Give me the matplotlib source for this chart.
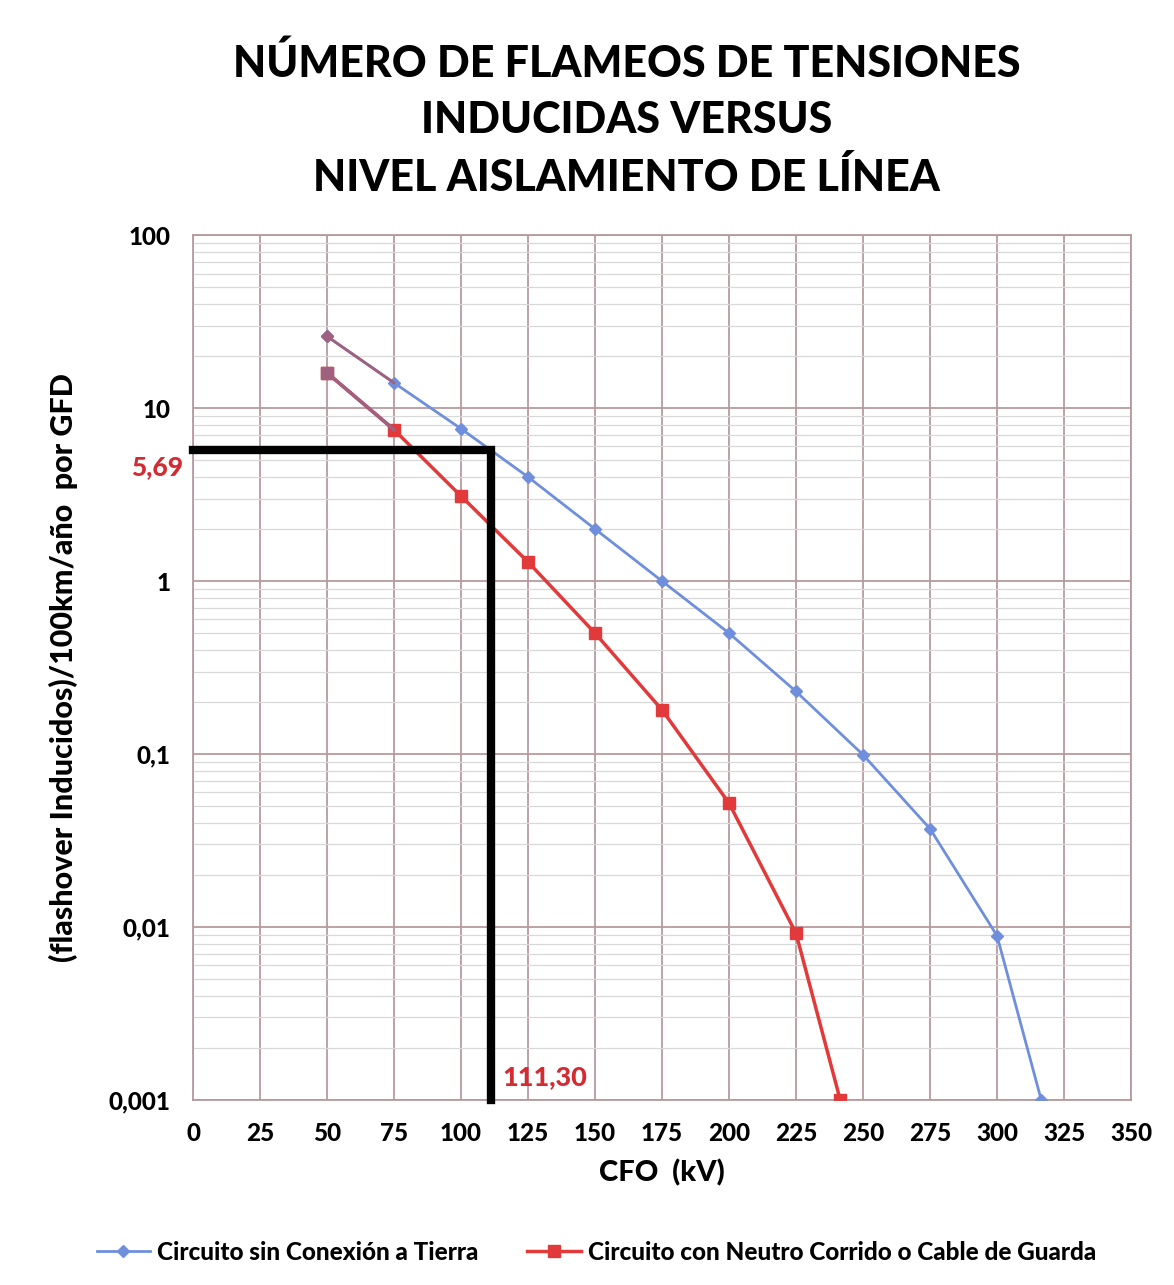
import matplotlib.pyplot as plt
from matplotlib.ticker import FixedLocator, LogLocator, NullFormatter

plt.rcParams['font.family'] = ['Lato', 'DejaVu Sans']

# data
cfo_blue = [50, 75, 100, 125, 150, 175, 200, 225, 250, 275, 300, 316.5]
flash_blue = [26, 14, 7.6, 4.0, 2.0, 1.0, 0.5, 0.23, 0.099, 0.037, 0.0089, 0.001]
cfo_red = [50, 75, 100, 125, 150, 175, 200, 225, 241.5]
flash_red = [16, 7.5, 3.1, 1.29, 0.5, 0.18, 0.052, 0.0092, 0.001]
cfo_sel = 111.30
flash_sel = 5.69
x_ticks = list(range(0, 351, 25))
y_ticks = [0.001, 0.01, 0.1, 1, 10, 100]
y_labels = ['0,001', '0,01', '0,1', '1', '10', '100']

blue = '#6f8fdc'
red = '#e23a3a'
mauve = '#a0607e'
gridc = '#b89a9e'
W = 'black'

fig = plt.figure(figsize=(11.74, 12.85), dpi=100)
ax = fig.add_axes([0.1644, 0.144, 0.799, 0.673])

ax.set_yscale('log')
ax.set_xlim(0, 350)
ax.set_ylim(0.001, 100)

ax.xaxis.set_major_locator(FixedLocator(x_ticks))
ax.set_xticklabels([str(v) for v in x_ticks])
ax.yaxis.set_major_locator(FixedLocator(y_ticks))
ax.set_yticklabels(y_labels)
ax.yaxis.set_minor_locator(LogLocator(base=10, subs=range(2, 10)))
ax.yaxis.set_minor_formatter(NullFormatter())
ax.tick_params(axis='both', which='both', length=0, labelsize=17.5)
ax.tick_params(axis='x', pad=16)
ax.tick_params(axis='y', pad=16)
for lab in ax.get_xticklabels() + ax.get_yticklabels():
    lab.set_fontweight(W)

ax.grid(True, which='major', color=gridc, lw=1.3)
ax.grid(True, which='minor', axis='y', color='#d8d8d8', lw=0.9)
ax.set_axisbelow(True)
for sp in ax.spines.values():
    sp.set_color(gridc)
    sp.set_linewidth(1.3)

# series
ax.plot(cfo_blue, flash_blue, color=blue, lw=2, marker='D', ms=6, zorder=4)
ax.plot(cfo_red, flash_red, color=red, lw=2.5, marker='s', ms=9, zorder=4)
# first segment appears purple in the original
ax.plot(cfo_blue[:2], flash_blue[:2], color=mauve, lw=2, zorder=5)
ax.plot(cfo_red[:2], flash_red[:2], color=mauve, lw=2.5, zorder=5)
ax.plot(cfo_blue[:1], flash_blue[:1], color=mauve, marker='D', ms=6, zorder=6)
ax.plot(cfo_red[:1], flash_red[:1], color=mauve, marker='s', ms=9, zorder=6)

# selected point
ax.plot([0, cfo_sel, cfo_sel], [flash_sel, flash_sel, 0.001], color='black',
        lw=6, solid_joinstyle='miter', zorder=7, clip_on=False)
ax.text(-3.5, flash_sel * 0.80, '5,69', color='#d42a32', fontsize=19, fontweight=W,
        ha='right', va='center')
ax.text(cfo_sel + 4, 0.00115, '111,30', color='#d42a32', fontsize=19.5, fontweight=W,
        ha='left', va='bottom')

ax.set_xlabel('CFO  (kV)', fontsize=21, fontweight=W, labelpad=10)
ax.set_ylabel('(flashover Inducidos)/100km/año  por GFD', fontsize=22,
              fontweight=W, labelpad=22)

fig.text(0.534, 0.967, 'NÚMERO DE FLAMEOS DE TENSIONES\nINDUCIDAS VERSUS\nNIVEL AISLAMIENTO DE LÍNEA',
         ha='center', va='top', fontsize=31, fontweight=W, linespacing=1.5)

# legend
h1, = ax.plot([], [], color=blue, lw=2, marker='D', ms=6)
h2, = ax.plot([], [], color=red, lw=2.5, marker='s', ms=9)
fig.legend([h1, h2], ['Circuito sin Conexión a Tierra',
                      'Circuito con Neutro Corrido o Cable de Guarda'],
           loc='center', bbox_to_anchor=(0.508, 0.0255), ncol=2, frameon=False,
           prop={'weight': W, 'size': 17.5}, handlelength=2.2, columnspacing=2.0,
           handletextpad=0.3)

fig.savefig('out.png', dpi=100)
